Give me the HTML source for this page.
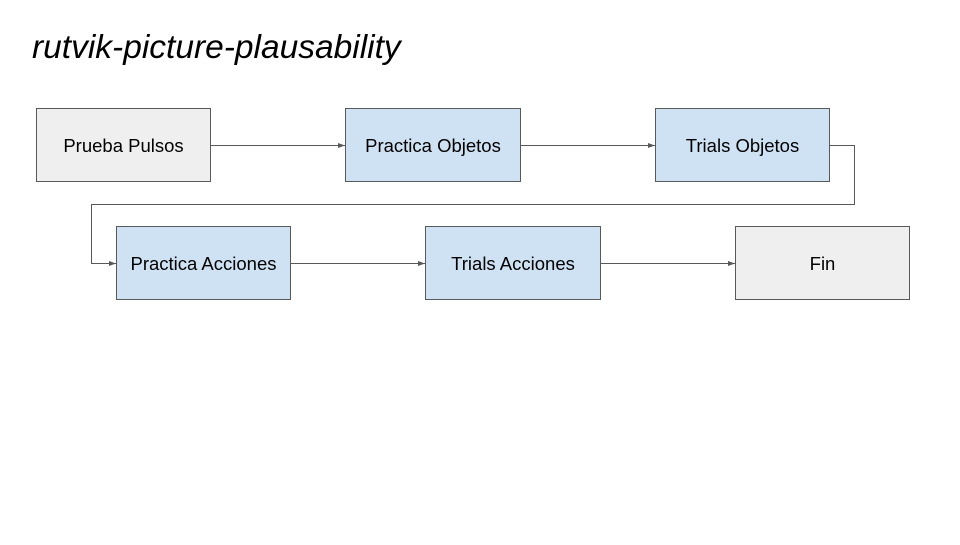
<!DOCTYPE html>
<html><head><meta charset="utf-8"><style>
body{margin:0;width:960px;height:540px;background:#fff;overflow:hidden}
</style></head><body>
<svg width="960" height="540" xmlns="http://www.w3.org/2000/svg" font-family="Liberation Sans, sans-serif">
<defs><marker id="a" markerWidth="8" markerHeight="6" refX="7" refY="3" orient="auto" markerUnits="userSpaceOnUse"><path d="M0,0.5 L7,3 L0,5.5 z" fill="#595959"/></marker></defs>
<text x="32" y="58" font-size="33.5" font-style="italic" fill="#000">rutvik-picture-plausability</text>
<g stroke="#595959" stroke-width="1" fill="none">
<line x1="211" y1="145.5" x2="345" y2="145.5" marker-end="url(#a)"/>
<line x1="521" y1="145.5" x2="655" y2="145.5" marker-end="url(#a)"/>
<polyline points="830,145.5 854.5,145.5 854.5,204.5 91.5,204.5 91.5,263.5 116,263.5" marker-end="url(#a)"/>
<line x1="291" y1="263.5" x2="425" y2="263.5" marker-end="url(#a)"/>
<line x1="601" y1="263.5" x2="735" y2="263.5" marker-end="url(#a)"/>
</g>
<g stroke="#595959" stroke-width="1">
<rect x="36.5" y="108.5" width="174" height="73" fill="#efefef"/>
<rect x="345.5" y="108.5" width="175" height="73" fill="#cfe2f3"/>
<rect x="655.5" y="108.5" width="174" height="73" fill="#cfe2f3"/>
<rect x="116.5" y="226.5" width="174" height="73" fill="#cfe2f3"/>
<rect x="425.5" y="226.5" width="175" height="73" fill="#cfe2f3"/>
<rect x="735.5" y="226.5" width="174" height="73" fill="#efefef"/>
</g>
<g font-size="18.5" fill="#000" text-anchor="middle">
<text x="123.5" y="152">Prueba Pulsos</text>
<text x="433" y="152">Practica Objetos</text>
<text x="742.5" y="152">Trials Objetos</text>
<text x="203.5" y="270">Practica Acciones</text>
<text x="513" y="270">Trials Acciones</text>
<text x="822.5" y="270">Fin</text>
</g>
</svg>
</body></html>
